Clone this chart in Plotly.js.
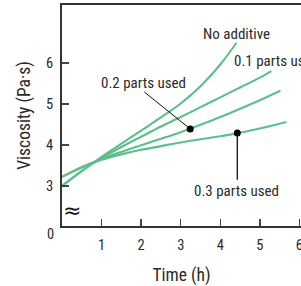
<!DOCTYPE html>
<html>
<head>
<meta charset="utf-8">
<script src="https://cdn.plot.ly/plotly-3.0.1.min.js"></script>
<style>html,body{margin:0;padding:0;background:#fff;}#chart{width:301px;height:286px;}</style>
</head>
<body>
<div id="chart"></div>
<script>
// Data
const seriesNames = ["No additive", "0.1 parts used", "0.2 parts used", "0.3 parts used"];
const timeNoAdd = [0, 0.5, 1, 1.5, 2, 2.5, 3, 3.5, 4, 4.41];
const viscNoAdd = [3.0, 3.36, 3.71, 4.03, 4.35, 4.67, 5.01, 5.43, 5.96, 6.49];
const time01 = [0, 0.5, 1, 1.5, 2, 2.5, 3, 3.5, 4, 4.5, 5, 5.29];
const visc01 = [3.0, 3.37, 3.68, 3.95, 4.2, 4.45, 4.68, 4.92, 5.16, 5.4, 5.64, 5.8];
const time02 = [0, 0.5, 1, 1.5, 2, 2.5, 3, 3.5, 4, 4.5, 5, 5.52];
const visc02 = [3.22, 3.46, 3.66, 3.83, 3.99, 4.15, 4.31, 4.49, 4.68, 4.88, 5.09, 5.32];
const time03 = [0, 0.5, 1, 1.5, 2, 2.5, 3, 3.5, 4, 4.5, 5, 5.67];
const visc03 = [3.22, 3.45, 3.64, 3.77, 3.88, 3.97, 4.06, 4.14, 4.21, 4.30, 4.40, 4.56];
// marked points
const markTime = [3.24, 4.43];
const markVisc = [4.39, 4.29];
const xTickVals = [1, 2, 3, 4, 5, 6];
const yTickVals = [3, 4, 5, 6];
const yBreakLabel = "0";

const green = "#5cbf8b";
const ink = "#2a2a2a";
const fontFam = "'Liberation Sans Narrow','Arial Narrow','Roboto Condensed','Liberation Sans',sans-serif";

function line(x, y, name) {
  return {x: x, y: y, name: name, type: "scatter", mode: "lines",
    line: {color: green, width: 2.1, shape: "spline", smoothing: 0.8}, hoverinfo: "skip"};
}
const traces = [
  line(timeNoAdd, viscNoAdd, seriesNames[0]),
  line(time01, visc01, seriesNames[1]),
  line(time02, visc02, seriesNames[2]),
  line(time03, visc03, seriesNames[3]),
  {x: markTime, y: markVisc, type: "scatter", mode: "markers",
   marker: {color: "#000", size: 7}, hoverinfo: "skip"}
];

const layout = {
  width: 301, height: 286,
  margin: {l: 62, r: 0, t: 5, b: 60},
  paper_bgcolor: "#fff", plot_bgcolor: "#fff",
  showlegend: false,
  font: {family: fontFam, color: ink, size: 15},
  xaxis: {
    range: [0, 6.04], tickvals: xTickVals, ticks: "inside", ticklen: 7, tickwidth: 1.3, tickcolor: "#444",
    showline: true, linecolor: "#333", linewidth: 2, mirror: true, showgrid: false, zeroline: false,
    ticklabeloverflow: "allow",
    tickfont: {size: 14.5, family: fontFam, color: ink}, ticklabelstandoff: 5,
    title: {text: "Time (h)", font: {size: 17.5, family: fontFam, color: ink}, standoff: 16}
  },
  yaxis: {
    range: [2.024, 7.41], tickvals: yTickVals, ticks: "inside", ticklen: 7, tickwidth: 1.3, tickcolor: "#444",
    showline: true, linecolor: "#333", linewidth: 2, showgrid: false, zeroline: false,
    tickfont: {size: 14.5, family: fontFam, color: ink}, ticklabelstandoff: 4,
    title: {text: "Viscosity (Pa·s)", font: {size: 17.5, family: fontFam, color: ink}, standoff: 11}
  },
  shapes: [
    {type: "line", xref: "x", yref: "y", x0: 2.08, y0: 5.29, x1: markTime[0], y1: markVisc[0],
     line: {color: "#111", width: 1}},
    {type: "line", xref: "x", yref: "y", x0: markTime[1], y0: 3.15, x1: markTime[1], y1: markVisc[1],
     line: {color: "#111", width: 1.3}}
  ],
  annotations: [
    {text: seriesNames[0], x: 4.42, y: 6.71, xref: "x", yref: "y", showarrow: false, font: {size: 15}},
    {text: seriesNames[1], x: 4.3, y: 6.05, xref: "x", yref: "y", xanchor: "left", showarrow: false, font: {size: 15}},
    {text: seriesNames[2], x: 2.05, y: 5.5, xref: "x", yref: "y", showarrow: false, font: {size: 15}},
    {text: seriesNames[3], x: 4.41, y: 2.87, xref: "x", yref: "y", showarrow: false, font: {size: 15}},
    {text: yBreakLabel, x: 0, xref: "paper", y: 2.024, yref: "y", xanchor: "right", yanchor: "middle",
     xshift: -6, yshift: -8, showarrow: false, font: {size: 14.5}},
    {text: "≈", x: 0, xref: "paper", y: 2.39, yref: "y", showarrow: false, textangle: 0,
     bgcolor: "#fff", borderpad: 0, font: {size: 22, color: "#111", family: "DejaVu Sans"}}
  ]
};

Plotly.newPlot("chart", traces, layout, {staticPlot: true, displayModeBar: false});
</script>
</body>
</html>
